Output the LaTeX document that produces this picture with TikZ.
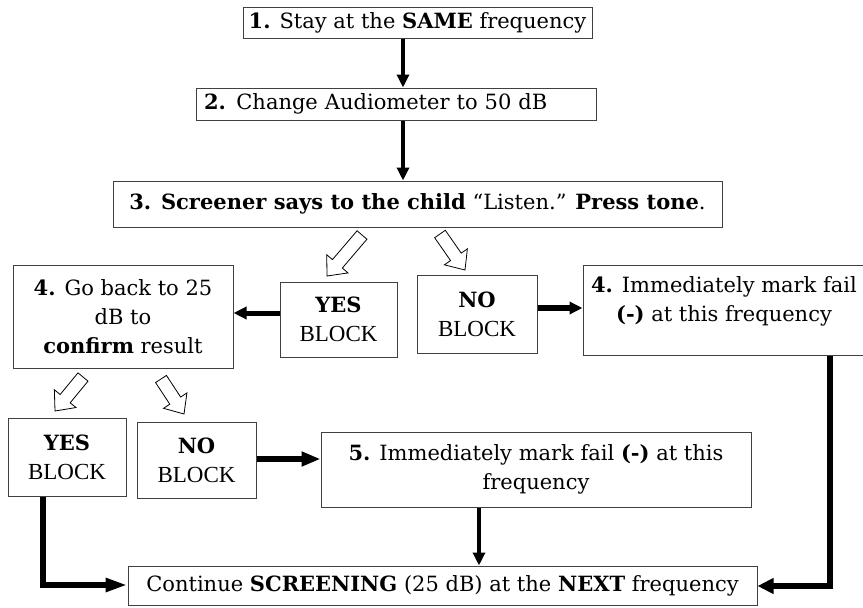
\documentclass[tikz,border=0pt]{standalone}
\usepackage{fontspec}
\setmainfont{DejaVu Serif}
\newfontfamily\tms{Liberation Serif}
\usetikzlibrary{arrows.meta,calc}
\newcommand\hollowarr[2]{%
  \coordinate (#1-b) at ($(#2)!16pt!(#1)$);
  \draw[hollow] ($(#1)!6.5pt!90:(#2)$) -- ($(#1-b)!6.5pt!90:(#2)$) -- ($(#1-b)!14pt!90:(#2)$) -- (#2)
    -- ($(#1-b)!14pt!-90:(#2)$) -- ($(#1-b)!6.5pt!-90:(#2)$) -- ($(#1)!6.5pt!-90:(#2)$) -- cycle;}
\newcommand\blk{\tms\fontsize{23}{29}\selectfont BLOCK}
\begin{document}
\begin{tikzpicture}[x=1pt,y=-1pt,
  box/.style={draw=black!75, line width=1pt, inner sep=0pt, align=center,
    font=\fontsize{21}{29}\selectfont},
  arr/.style={line width=4.5pt, -{Triangle[length=13pt,width=12pt]}},
  arrbig/.style={line width=6pt, -{Triangle[length=19pt,width=14pt]}},
  hollow/.style={draw=black, line width=0.8pt, fill=white, line join=miter}
]
\useasboundingbox (0,0) rectangle (863,608);

% boxes
\node[box, minimum width=349pt, minimum height=31pt] (b1) at (417.5,22.5)
  {\textbf{1.} Stay at the \textbf{SAME} frequency};
\node[box, minimum width=400pt, minimum height=32pt, text width=384pt, align=left] (b2) at (396,104)
  {\textbf{2.} Change Audiometer to 50 dB};
\node[box, minimum width=609pt, minimum height=46pt] (b3) at (417.5,204)
  {\textbf{3. Screener says to the child} “Listen.” \textbf{Press tone}.};
\node[box, minimum width=117pt, minimum height=75pt] (yes1) at (338.5,319.5)
  {\textbf{YES}\\ \blk};
\node[box, minimum width=120pt, minimum height=78pt] (no1) at (477,314)
  {\textbf{NO}\\ \blk};
\node[box, minimum width=220pt, minimum height=103pt] (b4l) at (123,316.5)
  {\textbf{4.} Go back to 25\\ dB to\\ \textbf{confirm} result};
\node[box, minimum width=282pt, minimum height=90pt] (b4r) at (724,310) {};
\node[box, draw=none] (b4rt) at (724,301)
  {\textbf{4.} Immediately mark fail\\ \textbf{(-)} at this frequency};
\node[box, minimum width=118pt, minimum height=78pt] (yes2) at (67,457)
  {\textbf{YES}\\ \blk};
\node[box, minimum width=119pt, minimum height=76pt] (no2) at (196.5,460)
  {\textbf{NO}\\ \blk};
\node[box, minimum width=430pt, minimum height=75pt] (b5) at (536,469.5)
  {\textbf{5.} Immediately mark fail \textbf{(-)} at this\\ frequency};
\node[box, minimum width=629pt, minimum height=39pt] (cont) at (442.5,585.5)
  {Continue \textbf{SCREENING} (25 dB) at the \textbf{NEXT} frequency};

% solid arrows
\draw[arr] (403,0 |- b1.south) -- (403,0 |- b2.north);
\draw[arr] (403,0 |- b2.south) -- (403,0 |- b3.north);
\draw[arr, line width=5pt] (yes1.west |- 0,313) -- (b4l.east |- 0,313);
\draw[arr, line width=6pt] (no1.east |- 0,308) -- (b4r.west |- 0,308);
\draw[arrbig] (no2.east |- 0,459) -- (b5.west |- 0,459);
\draw[arr] (479,0 |- b5.south) -- (479,0 |- cont.north);
\draw[arrbig, line width=5.5pt, -{Triangle[length=22pt,width=13pt]}] (43,0 |- yes2.south) |- (cont.west |- 0,585);
\draw[arrbig, line width=5.5pt, -{Triangle[length=16pt,width=15pt]}] (830,0 |- b4r.south) |- (cont.east |- 0,586);

% hollow arrows
\coordinate (h1) at (362,235); \coordinate (h1p) at (327,276);
\coordinate (h2) at (440,234); \coordinate (h2p) at (465,270);
\coordinate (h3) at (83,377);  \coordinate (h3p) at (55,411);
\coordinate (h4) at (161,379); \coordinate (h4p) at (184,414);
\hollowarr{h1}{h1p}
\hollowarr{h2}{h2p}
\hollowarr{h3}{h3p}
\hollowarr{h4}{h4p}
\end{tikzpicture}
\end{document}
